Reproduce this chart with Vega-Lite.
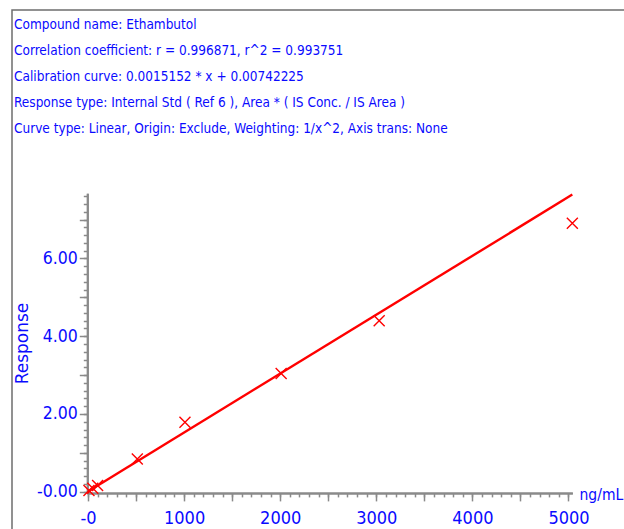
{
  "$schema": "https://vega.github.io/schema/vega-lite/v6.json",
  "width": 616,
  "height": 523,
  "autosize": {"type": "none"},
  "padding": {"left": 12, "top": 10, "right": -4, "bottom": -4},
  "background": "white",
  "config": {
    "view": {"stroke": "#6e6e6e", "strokeWidth": 1.5},
    "font": "'Liberation Sans Narrow', 'DejaVu Sans Condensed', 'Liberation Sans', sans-serif"
  },
  "title": {
    "text": "Compound name: Ethambutol",
    "subtitle": [
      "Correlation coefficient: r = 0.996871, r^2 = 0.993751",
      "Calibration curve: 0.0015152 * x + 0.00742225",
      "Response type: Internal Std ( Ref 6 ), Area * ( IS Conc. / IS Area )",
      "Curve type: Linear, Origin: Exclude, Weighting: 1/x^2, Axis trans: None"
    ],
    "anchor": "start",
    "frame": "group",
    "orient": "top",
    "offset": -125,
    "dx": 2,
    "font": "'Liberation Sans Narrow', 'DejaVu Sans Condensed', 'Liberation Sans', sans-serif",
    "fontSize": 13.5,
    "fontWeight": "normal",
    "color": "#0a0aff",
    "subtitleFont": "'Liberation Sans Narrow', 'DejaVu Sans Condensed', 'Liberation Sans', sans-serif",
    "subtitleFontSize": 13.5,
    "subtitleColor": "#0a0aff",
    "subtitlePadding": 12,
    "subtitleLineHeight": 26
  },
  "datasets": {
    "fit": [
      {"conc": 0, "response": 0.0074},
      {"conc": 5040, "response": 7.644}
    ],
    "standards": [
      {"conc": 10, "response": 0.03},
      {"conc": 50, "response": 0.09},
      {"conc": 100, "response": 0.16},
      {"conc": 513, "response": 0.84},
      {"conc": 1009, "response": 1.79},
      {"conc": 2010, "response": 3.04},
      {"conc": 3030, "response": 4.4},
      {"conc": 5040, "response": 6.905}
    ]
  },
  "resolve": {"axis": {"x": "independent", "y": "independent"}},
  "layer": [
    {
      "data": {"name": "fit"},
      "mark": {"type": "line", "color": "#ff0000", "strokeWidth": 2.4},
      "encoding": {
        "x": {
          "field": "conc", "type": "quantitative",
          "scale": {"domain": [-10, 5040], "range": [75.04, 560.34], "nice": false, "zero": false},
          "axis": {
            "orient": "bottom", "offset": -40.1, "title": null,
            "values": [0,100,200,300,400,500,600,700,800,900,1000,1100,1200,1300,1400,1500,1600,1700,1800,1900,2000,2100,2200,2300,2400,2500,2600,2700,2800,2900,3000,3100,3200,3300,3400,3500,3600,3700,3800,3900,4000,4100,4200,4300,4400,4500,4600,4700,4800,4900,5000],
            "labels": false, "grid": false, "tickSize": 4, "tickColor": "#8a8a8a", "tickWidth": 1.5,
            "domain": true, "domainColor": "#8a8a8a", "domainWidth": 2
          }
        },
        "y": {
          "field": "response", "type": "quantitative",
          "scale": {"domain": [-0.03, 7.68], "range": [482.87, 183.2], "nice": false, "zero": false},
          "axis": {
            "orient": "left", "offset": -75.3, "title": null,
            "values": [0,0.2,0.4,0.6,0.8,1,1.2,1.4,1.6,1.8,2,2.2,2.4,2.6,2.8,3,3.2,3.4,3.6,3.8,4,4.2,4.4,4.6,4.8,5,5.2,5.4,5.6,5.8,6,6.2,6.4,6.6,6.8,7,7.2,7.4,7.6],
            "labels": false, "grid": false, "tickSize": 4, "tickColor": "#8a8a8a", "tickWidth": 1.5,
            "domain": true, "domainColor": "#8a8a8a", "domainWidth": 2
          }
        }
      }
    },
    {
      "data": {"name": "standards"},
      "mark": {"type": "point", "shape": "M-1,-1L1,1M1,-1L-1,1", "filled": false, "color": "#ff0000", "strokeWidth": 1.4, "size": 121, "opacity": 1},
      "encoding": {
        "x": {
          "field": "conc", "type": "quantitative",
          "axis": {
            "orient": "bottom", "offset": -40.1,
            "title": "ng/mL", "titleFont": "'Liberation Sans Narrow', 'DejaVu Sans Condensed', 'Liberation Sans', sans-serif", "titleFontSize": 15.5, "titleFontWeight": "normal", "titleColor": "#0a0aff",
            "titleAnchor": "start", "titleAlign": "left", "titleBaseline": "alphabetic", "titleAngle": 0, "titleX": 567, "titleY": 7,
            "values": [0,500,1000,1500,2000,2500,3000,3500,4000,4500,5000],
            "labelExpr": "datum.value == 0 ? '-0' : (datum.value % 1000 == 0 ? format(datum.value, 'd') : '')",
            "labelFont": "'Liberation Sans Narrow', 'DejaVu Sans Condensed', 'Liberation Sans', sans-serif", "labelFontSize": 18, "labelColor": "#0a0aff", "labelPadding": 9,
            "labelOverlap": false, "labelBound": false, "labelFlush": false,
            "grid": false, "tickSize": 8, "tickColor": "#8a8a8a", "tickWidth": 1.5,
            "domain": true, "domainColor": "#8a8a8a", "domainWidth": 2
          }
        },
        "y": {
          "field": "response", "type": "quantitative",
          "axis": {
            "orient": "left", "offset": -75.3,
            "title": "Response", "titleFont": "DejaVu Sans", "titleFontSize": 17, "titleFontWeight": "normal", "titleColor": "#0a0aff",
            "titleAngle": -90, "titleAlign": "center", "titleBaseline": "middle", "titleX": -65, "titleY": 333,
            "values": [0,1,2,3,4,5,6,7],
            "labelExpr": "datum.value == 0 ? '-0.00' : (datum.value % 2 == 0 ? format(datum.value, '.2f') : '')",
            "labelFont": "'Liberation Sans Narrow', 'DejaVu Sans Condensed', 'Liberation Sans', sans-serif", "labelFontSize": 17.5, "labelColor": "#0a0aff", "labelPadding": 2,
            "labelOverlap": false, "labelBound": false, "labelFlush": false,
            "grid": false, "tickSize": 8, "tickColor": "#8a8a8a", "tickWidth": 1.5,
            "domain": true, "domainColor": "#8a8a8a", "domainWidth": 2
          }
        }
      }
    }
  ]
}
